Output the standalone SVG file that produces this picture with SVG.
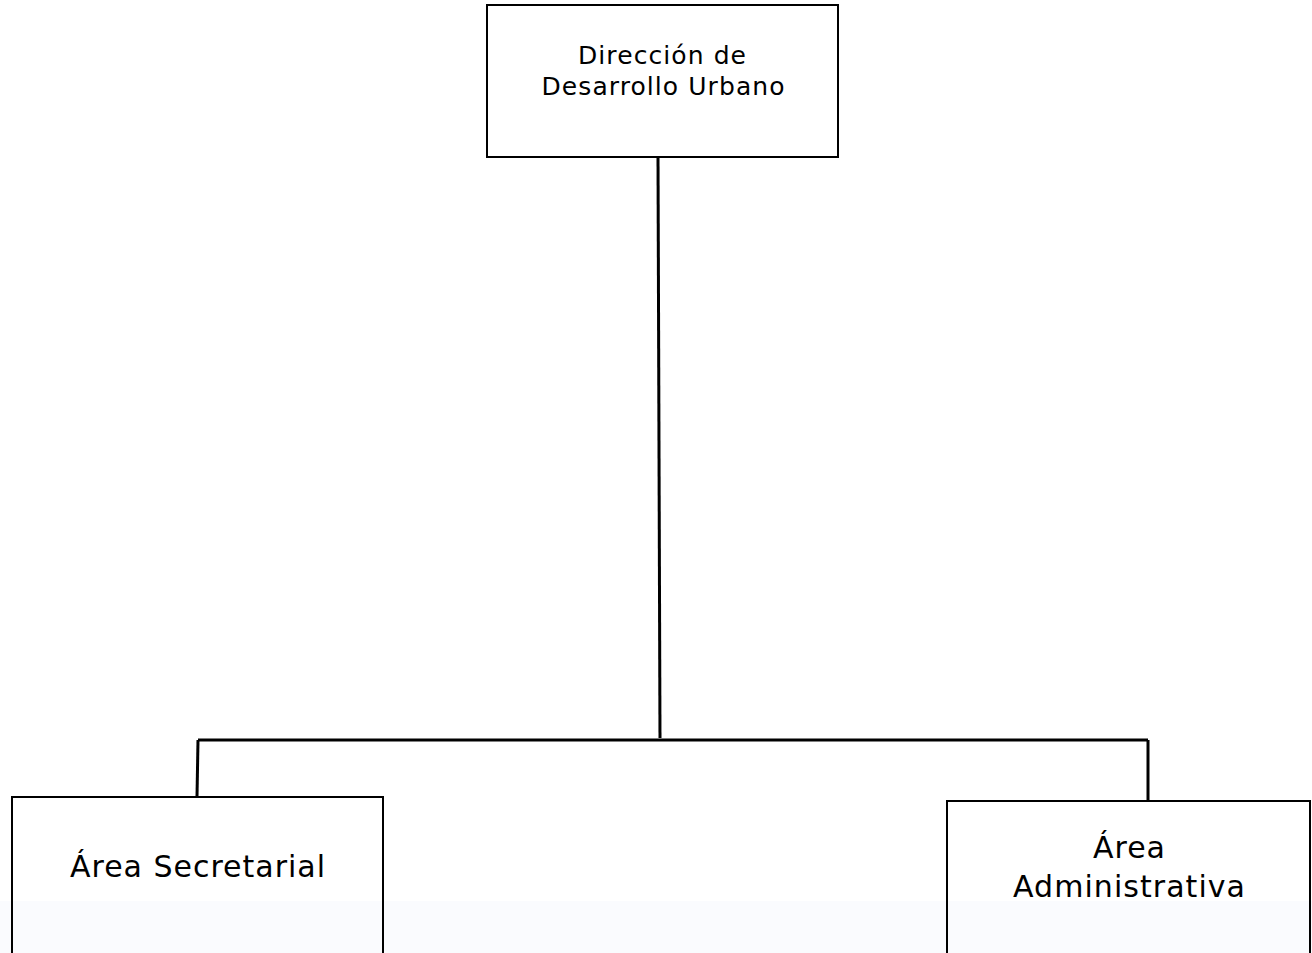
<svg xmlns="http://www.w3.org/2000/svg" width="1312" height="953" viewBox="0 0 1312 953">
<style>
.box{fill:none;stroke:#000;stroke-width:2}
.lbl{font-family:"DejaVu Sans","Noto Sans",sans-serif;fill:#000;text-anchor:middle}
.wire{fill:none;stroke:#000;stroke-width:3}
</style>
<rect x="0" y="0" width="1312" height="953" fill="#fff"/>
<rect x="0" y="901" width="1312" height="52" fill="#fafbfe"/>
<g id="connectors">
<path class="wire" d="M658 157 L660 738"/>
<path class="wire" d="M198 740 L1148 740"/>
<path class="wire" d="M198 740 L197 797"/>
<path class="wire" d="M1148 740 L1148 801"/>
</g>
<g id="node-direccion">
<rect class="box" x="487" y="5" width="351" height="152"/>
<text class="lbl" x="662" y="64" font-size="25" textLength="168" lengthAdjust="spacing">Dirección de</text>
<text class="lbl" x="663" y="95" font-size="25" textLength="243" lengthAdjust="spacing">Desarrollo Urbano</text>
</g>
<g id="node-secretarial">
<rect class="box" x="12" y="797" width="371" height="170"/>
<text class="lbl" x="197.5" y="877" font-size="30" textLength="255" lengthAdjust="spacing">Área Secretarial</text>
</g>
<g id="node-administrativa">
<rect class="box" x="947" y="801" width="363" height="170"/>
<text class="lbl" x="1129" y="858" font-size="30" textLength="72" lengthAdjust="spacing">Área</text>
<text class="lbl" x="1129" y="897" font-size="30" textLength="232" lengthAdjust="spacing">Administrativa</text>
</g>
</svg>
